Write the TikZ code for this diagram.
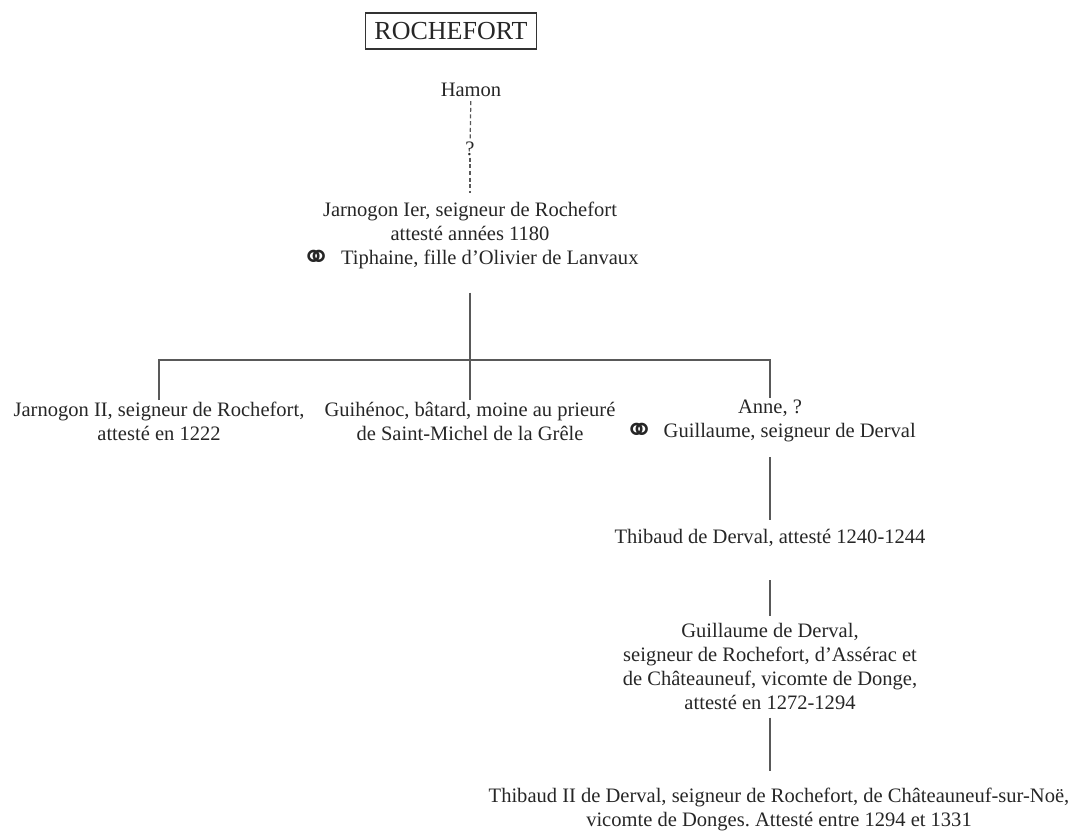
\documentclass[tikz,border=0pt]{standalone}
\usepackage{fontspec}
\setmainfont{Liberation Serif}
\newfontfamily\anneauxfont{DejaVu Sans}
\usetikzlibrary{positioning}
\frenchspacing

\newcommand{\anneaux}{\raisebox{-3.5pt}{\anneauxfont\bfseries\fontsize{27}{18}\selectfont ⚭}\hspace{7pt}}

\begin{document}
\begin{tikzpicture}[x=0.75pt,y=-0.75pt,
  every node/.style={text=black!85, font=\fontsize{15.4}{18}\selectfont, align=center, inner sep=1pt},
  lien/.style={draw=black!65, line width=0.9pt},
  douteux/.style={lien, dash pattern=on 3pt off 2pt}]
  \useasboundingbox (0,0) rectangle (1076,840);

  \node[draw=black!80, line width=1pt, minimum width=128pt, minimum height=27pt,
        font=\fontsize{19.5}{22}\selectfont] (titre) at (451,31) {ROCHEFORT};

  \node (hamon) at (471,90) {Hamon};
  \node (incertain) at (470,149) {?};
  \node (jarnogon1) at (470,236) {Jarnogon Ier, seigneur de Rochefort\\
    attesté années 1180\\
    \anneaux Tiphaine, fille d’Olivier de Lanvaux};

  \node (jarnogon2) at (159,421) {Jarnogon II, seigneur de Rochefort,\\ attesté en 1222};
  \node (guihenoc) at (470,421) {Guihénoc, bâtard, moine au prieuré\\ de Saint-Michel de la Grêle};
  \node (anne) at (770,421) {Anne, ?\\ \anneaux Guillaume, seigneur de Derval};

  \node (thibaud) at (770,538) {Thibaud de Derval, attesté 1240-1244};
  \node (guillaume) at (770,666) {Guillaume de Derval,\\
    seigneur de Rochefort, d’Assérac et\\
    de Châteauneuf, vicomte de Donge,\\
    attesté en 1272-1294};
  \node (thibaud2) at (779,809) {Thibaud II de Derval, seigneur de Rochefort, de Châteauneuf-sur-Noë,\\
    vicomte de Donges. Attesté entre 1294 et 1331};

  % filiation incertaine
  \draw[douteux, shorten <=2pt] (hamon) -- (incertain);
  \draw[douteux, shorten >=6pt] (incertain) -- (jarnogon1);

  % enfants de Jarnogon Ier
  \coordinate (barre) at (470,360);
  \draw[lien, shorten <=16pt] (jarnogon1) -- (barre);
  \draw[lien] (jarnogon2.north) |- (barre) -| (anne.north);
  \draw[lien] (barre) -- (barre |- guihenoc.north);

  % descendance Derval
  \draw[lien, shorten <=10pt, shorten >=6pt] (anne) -- (thibaud);
  \draw[lien, shorten <=24pt, shorten >=4pt] (thibaud) -- (guillaume);
  \draw[lien, shorten <=5pt, shorten >=11pt] (guillaume.south) -- (guillaume.south |- thibaud2.north);
\end{tikzpicture}
\end{document}
